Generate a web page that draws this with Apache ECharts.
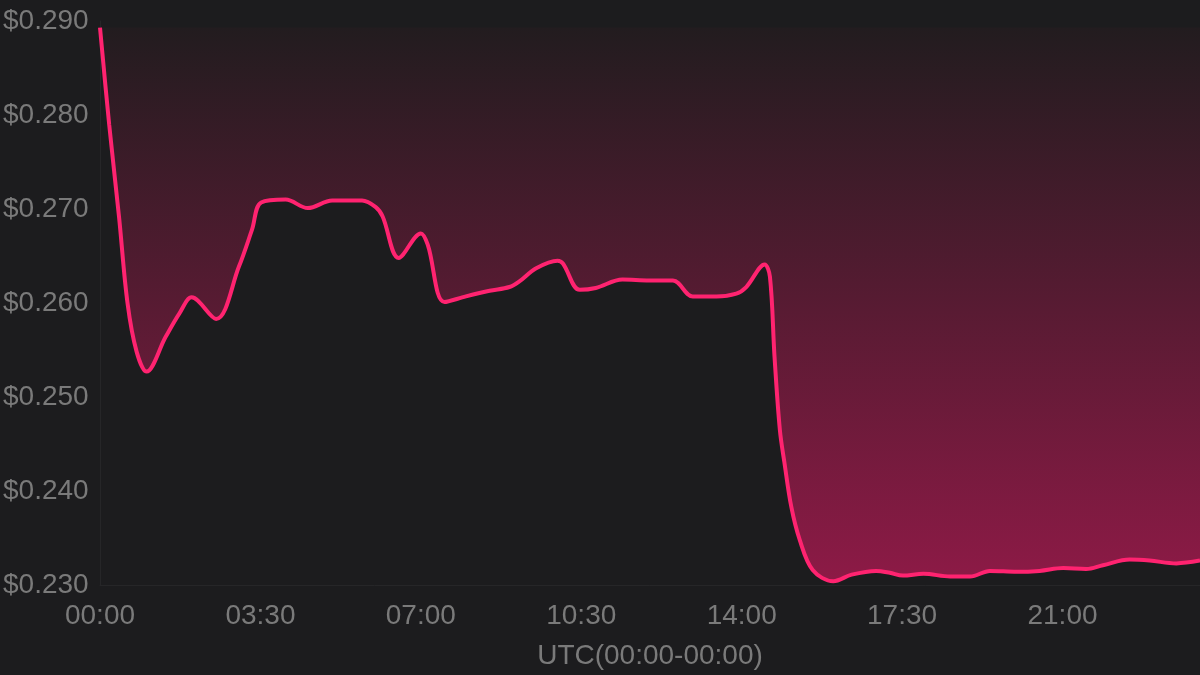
<!DOCTYPE html>
<html>
<head>
<meta charset="utf-8">
<script src="https://cdn.jsdelivr.net/npm/echarts@6/dist/echarts.min.js"></script>
<style>
html,body{margin:0;padding:0;background:#1c1c1e;}
#chart{width:1200px;height:675px;}
</style>
</head>
<body>
<div id="chart"></div>
<script>
// minutes since 00:00 UTC
const minutes = [0,12,25,36,48,61,86,104,120,152,182,199,211,243,272,304,343,361,370,391,420,429,451,479,510,536,549,571,599,606,628,649,684,719,750,776,807,833,846,870,877,883,890,896,905,916,933,960,984,1016,1034,1051,1078,1113,1139,1165,1200,1230,1261,1291,1313,1348,1374,1409,1440];
const prices = [0.2893,0.2790,0.2691,0.2600,0.2548,0.2527,0.2564,0.2589,0.2606,0.2583,0.2639,0.2678,0.2707,0.2710,0.2701,0.2709,0.2709,0.2702,0.2692,0.2648,0.2674,0.2662,0.2601,0.2607,0.2613,0.2617,0.2623,0.2637,0.2645,0.2642,0.2614,0.2616,0.2625,0.2624,0.2624,0.2607,0.2607,0.2610,0.2617,0.2641,0.2628,0.2543,0.2465,0.2430,0.2383,0.2348,0.2316,0.2304,0.2311,0.2315,0.2313,0.2310,0.2312,0.2309,0.2309,0.2315,0.2314,0.2315,0.2318,0.2317,0.2321,0.2327,0.2326,0.2323,0.2326];
const yTicks = [0.23,0.24,0.25,0.26,0.27,0.28,0.29];
const xAxisName = 'UTC(00:00-00:00)';

const topPrice = Math.max.apply(null, prices);
const lineData = minutes.map((m,i)=>[m, prices[i]]);

const chart = echarts.init(document.getElementById('chart'));
const labelColor = '#7a7a7a';
const font = 'Liberation Sans, Arial, sans-serif';
chart.setOption({
  backgroundColor: '#1c1c1e',
  animation: false,
  grid: {left: 100, right: 0, top: 21, bottom: 90},
  xAxis: {
    type: 'value', min: 0, max: 1440, interval: 210,
    name: xAxisName, nameLocation: 'middle', nameGap: 57,
    nameTextStyle: {color: labelColor, fontSize: 28, fontFamily: font},
    axisLine: {show: true, lineStyle: {color: '#262628', width: 1}},
    axisTick: {show: false},
    splitLine: {show: false},
    axisLabel: {
      color: labelColor, fontSize: 28, fontFamily: font, margin: 17,
      showMaxLabel: false,
      formatter: function(v){
        const h = Math.floor(v/60), m = v%60;
        return String(h).padStart(2,'0') + ':' + String(m).padStart(2,'0');
      }
    }
  },
  yAxis: {
    type: 'value', min: yTicks[0], max: yTicks[yTicks.length-1], interval: 0.01,
    axisLine: {show: true, lineStyle: {color: '#262628', width: 1}},
    axisTick: {show: false},
    splitLine: {show: false},
    axisLabel: {
      color: labelColor, fontSize: 28, fontFamily: font, margin: 97, align: 'left',
      formatter: function(v){ return '$' + v.toFixed(3); }
    }
  },
  series: [
    {
      name: 'price', type: 'line', data: lineData,
      smooth: 0.35, showSymbol: false, symbol: 'none',
      lineStyle: {color: '#ff2370', width: 4},
      areaStyle: {
        origin: topPrice,
        opacity: 1,
        color: new echarts.graphic.LinearGradient(0,0,0,1,[
          {offset: 0, color: '#221c1f'},
          {offset: 1, color: '#8d1a46'}
        ])
      }
    }
  ]
});
</script>
</body>
</html>
